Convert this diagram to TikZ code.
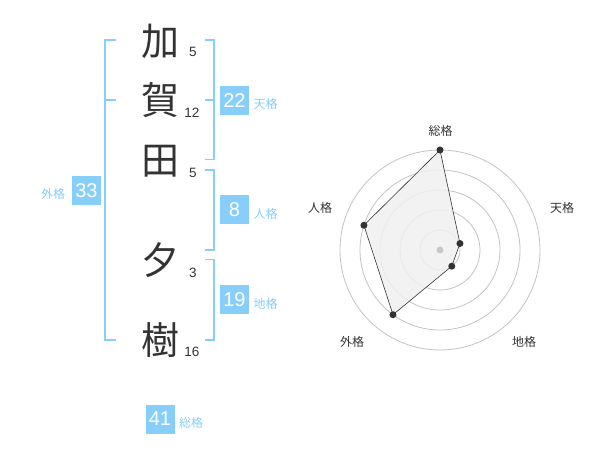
\documentclass[tikz,border=0pt]{standalone}
\usepackage{fontspec}
\setmainfont{Liberation Sans}
\newfontfamily\jp{Noto Sans CJK JP}
\usetikzlibrary{calc}
\definecolor{kblue}{RGB}{135,206,250}
\definecolor{kdark}{RGB}{51,51,51}
\definecolor{kgrid}{RGB}{195,195,195}
\definecolor{kfill}{RGB}{240,240,240}
\definecolor{kcenter}{RGB}{200,200,200}
\begin{document}
\begin{tikzpicture}[x=1pt,y=-1pt,
  kanji/.style={font=\jp\fontsize{38}{38}\selectfont,text=kdark,inner sep=0},
  strokes/.style={font=\fontsize{13.5}{14}\selectfont,text=kdark,inner sep=0},
  kbox/.style={fill=kblue,text=white,minimum size=29,inner sep=0,font=\fontsize{20}{20}\selectfont},
  klabel/.style={font=\jp\fontsize{12}{12}\selectfont,text=kblue,inner sep=0},
  brack/.style={draw=kblue,line width=1.6},
  rlabel/.style={font=\jp\fontsize{12}{12}\selectfont,text=kdark,inner sep=0},
  rdot/.style={circle,fill=kdark,inner sep=0,minimum size=7},
]
\useasboundingbox (0,0) rectangle (600,470);
% characters
\node[kanji] (c1) at (160,41) {加};
\node[kanji] (c2) at (160,100) {賀};
\node[kanji] (c3) at (160,161) {田};
\node[kanji] (c4) at (160,260) {夕};
\node[kanji] (c5) at (160,340) {樹};
\node[strokes] (s1) at (193,52) {5};
\node[strokes] (s2) at (192,113) {12};
\node[strokes] (s3) at (193,173) {5};
\node[strokes] (s4) at (193,273) {3};
\node[strokes] (s5) at (192,352) {16};
% outer bracket
\coordinate (ga) at (105,40);
\coordinate (gb) at (105,340);
\draw[brack] (116,40) -- (ga) -- (gb) -- (116,340);
\draw[brack] (105,100) -- (116,100);
\node[kbox] (b33) at (86.5,190.5) {33};
\node[klabel] (l33) at (53,194) {外格};
% right brackets
\draw[brack] (205,40) -- (214,40) -- (214,159.5) -- (205,159.5);
\draw[brack] (205,100) -- (214,100);
\node[kbox] (b22) at (234.5,100.5) {22};
\node[klabel] (l22) at (265.5,104) {天格};
\draw[brack] (205,170) -- (214,170) -- (214,250) -- (205,250);
\node[kbox] (b8) at (234.5,210) {8};
\node[klabel] (l8) at (265.5,214) {人格};
\draw[brack] (205,259.5) -- (214,259.5) -- (214,340) -- (205,340);
\node[kbox] (b19) at (234.5,300) {19};
\node[klabel] (l19) at (265.5,304) {地格};
\node[kbox] (b41) at (160,419) {41};
\node[klabel] (l41) at (191,423) {総格};
% radar
\coordinate (rc) at (440,250);
\foreach \r in {20,40,60,80,100} \draw[kgrid,line width=0.8] (rc) circle[radius=\r];
\coordinate (p1) at ($(rc)+(0,-100)$);
\coordinate (p2) at ($(rc)+(19.97,-6.49)$);
\coordinate (p3) at ($(rc)+(11.76,16.18)$);
\coordinate (p4) at ($(rc)+(-47.02,64.72)$);
\coordinate (p5) at ($(rc)+(-76.08,-24.72)$);
\filldraw[fill=kfill,fill opacity=0.85,draw=kdark,line width=0.6] (p1) -- (p2) -- (p3) -- (p4) -- (p5) -- cycle;
\fill[kcenter] (rc) circle[radius=3.5];
\foreach \p in {p1,p2,p3,p4,p5} \node[rdot] at (\p) {};
\node[rlabel] (r1) at (440.7,130.5) {総格};
\node[rlabel] (r2) at (562,208) {天格};
\node[rlabel] (r3) at (524,342) {地格};
\node[rlabel] (r4) at (352,342) {外格};
\node[rlabel] (r5) at (320,208) {人格};
\end{tikzpicture}
\end{document}
